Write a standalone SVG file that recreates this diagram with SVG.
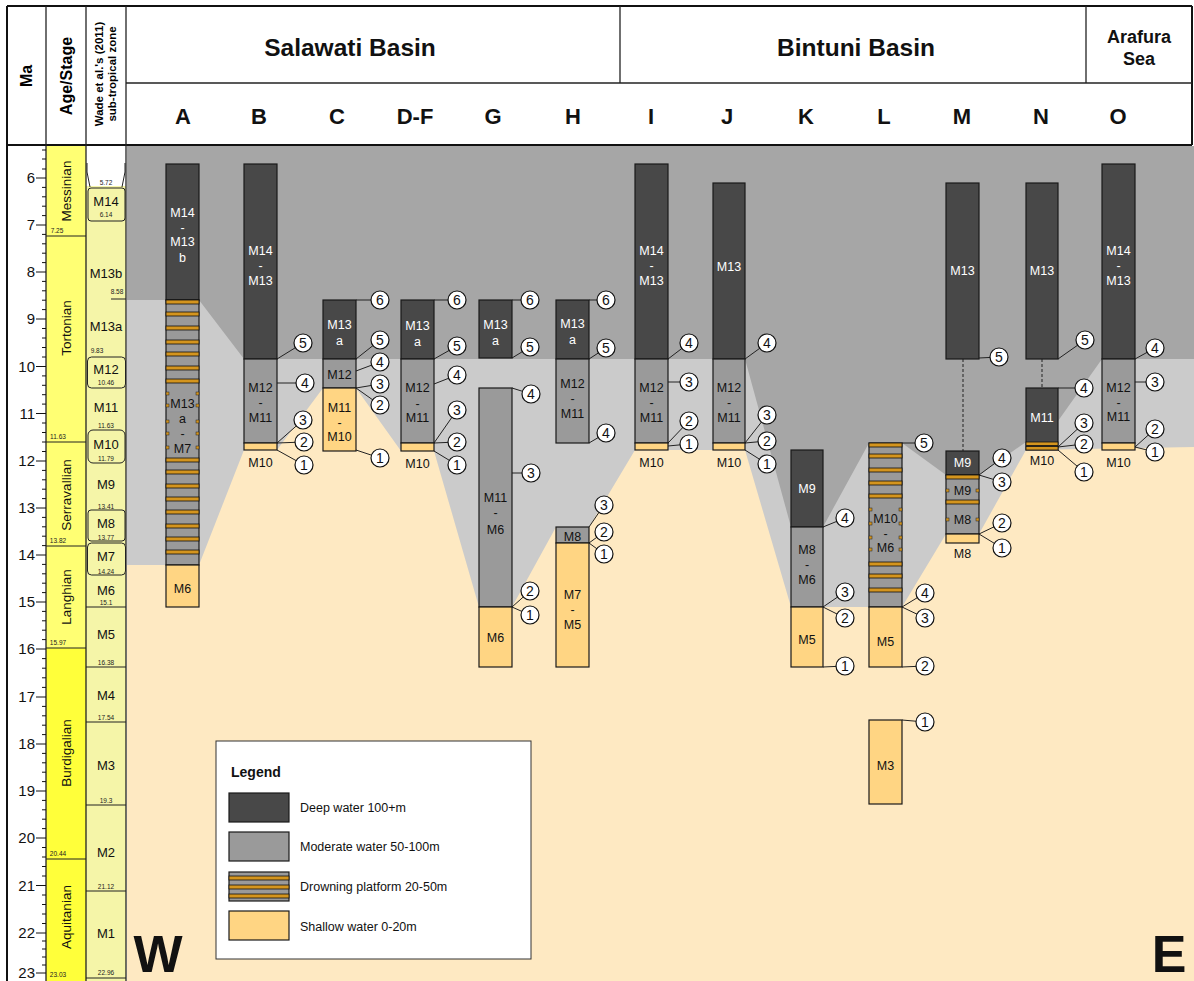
<svg xmlns="http://www.w3.org/2000/svg" width="1194" height="981" viewBox="0 0 1194 981">
<style>
text{font-family:"Liberation Sans",Arial,sans-serif}
.frame{fill:none;stroke:#111;stroke-width:2}
.thin{stroke:#222;stroke-width:1.3;fill:none}
.deep{fill:#484848;stroke:#1a1a1a;stroke-width:1.2}
.mod{fill:#9a9a9a;stroke:#1a1a1a;stroke-width:1.2}
.shal{fill:#ffd583;stroke:#1a1a1a;stroke-width:1.2}
.st{fill:#d4951e;stroke:#111;stroke-width:0.8}
.tk{fill:#d4951e;stroke:#222;stroke-width:0.5}
.tw{font-size:12.5px;fill:#fff;text-anchor:middle}
.tb{font-size:12.5px;fill:#111;text-anchor:middle}
.mk circle{fill:#fff;stroke:#111;stroke-width:1.2}
.mk text{font-size:14px;fill:#111;text-anchor:middle}
.conn line{stroke:#222;stroke-width:1}
.dash{stroke:#444;stroke-width:1;stroke-dasharray:3 2}
.hd{font-size:22px;font-weight:bold;fill:#111;text-anchor:middle}
.bn{font-size:24.5px;font-weight:bold;fill:#111;text-anchor:middle}
.ax{font-size:15px;fill:#111;text-anchor:end}
.zn{font-size:13px;fill:#111;text-anchor:middle}
.sm{font-size:6.5px;fill:#222;text-anchor:middle}
.sg{font-size:13.5px;fill:#111;text-anchor:middle}
.tick{stroke:#111;stroke-width:1}
</style>

<!-- backgrounds -->
<g id="background">
<rect x="127" y="146" width="1067" height="835" fill="#fee9c2"/>
<polygon fill="#cbcbcb" points="127,146 1194,146 1194,447 1026,450 979,534 946,534 902,607 791,607 745,450 635,450 589,527 556,527 512,607 479,607 434,451 401,451 356,388 323,388 277,450 244,450 199,565 127,565"/>
<polygon fill="#a6a6a6" points="127,146 1194,146 1194,359 1102,359 1058,421 1026,442 979,475 946,475 902,443 869,443 823,527 791,527 745,359 244,359 199,300 127,300"/>
</g>

<!-- header / frame -->
<g id="header">
<rect x="0" y="0" width="1194" height="146" fill="#fff"/>
<rect x="7" y="146" width="119" height="835" fill="#fff"/>
<rect x="46" y="146" width="40" height="96" fill="#ffff73"/>
<rect x="46" y="236" width="40" height="412" fill="#ffff73"/>
<rect x="46" y="648" width="40" height="333" fill="#ffff3a"/>
<rect x="86" y="186" width="40" height="795" fill="#f5f5a8"/>
<line class="frame" x1="7" y1="6" x2="1192" y2="6"/>
<line class="frame" x1="7" y1="6" x2="7" y2="981"/>
<line class="frame" x1="1192" y1="6" x2="1192" y2="145"/>
<line class="frame" x1="7" y1="145" x2="1192" y2="145"/>
<line class="thin" x1="46" y1="6" x2="46" y2="981"/>
<line class="thin" x1="86" y1="6" x2="86" y2="981"/>
<line class="thin" x1="126" y1="6" x2="126" y2="981"/>
<line class="thin" x1="126" y1="83" x2="1192" y2="83"/>
<line class="thin" x1="620" y1="6" x2="620" y2="83"/>
<line class="thin" x1="1086" y1="6" x2="1086" y2="83"/>
<text transform="translate(32,76) rotate(-90)" style="font-size:16px;font-weight:bold;text-anchor:middle">Ma</text>
<text transform="translate(72,76) rotate(-90)" style="font-size:16px;font-weight:bold;text-anchor:middle">Age/Stage</text>
<text transform="translate(103,74) rotate(-90)" style="font-size:11.5px;font-weight:bold;text-anchor:middle">Wade et al.'s (2011)</text>
<text transform="translate(116,74) rotate(-90)" style="font-size:11.5px;font-weight:bold;text-anchor:middle">sub-tropical zone</text>
<text class="bn" x="350" y="56">Salawati Basin</text>
<text class="bn" x="856" y="56">Bintuni Basin</text>
<text class="hd" x="1139" y="43" style="font-size:18px">Arafura</text>
<text class="hd" x="1139" y="65" style="font-size:18px">Sea</text>
<text class="hd" x="183" y="124">A</text>
<text class="hd" x="259" y="124">B</text>
<text class="hd" x="337" y="124">C</text>
<text class="hd" x="415" y="124">D-F</text>
<text class="hd" x="493" y="124">G</text>
<text class="hd" x="573" y="124">H</text>
<text class="hd" x="651" y="124">I</text>
<text class="hd" x="727" y="124">J</text>
<text class="hd" x="806" y="124">K</text>
<text class="hd" x="884" y="124">L</text>
<text class="hd" x="962" y="124">M</text>
<text class="hd" x="1041" y="124">N</text>
<text class="hd" x="1118" y="124">O</text>
</g>

<!-- Ma axis -->
<g id="ma-axis">
<g class="tick">
<line x1="42" y1="150" x2="46" y2="150"/><line x1="42" y1="159" x2="46" y2="159"/><line x1="42" y1="169" x2="46" y2="169"/>
<line x1="36" y1="178" x2="46" y2="178"/><line x1="42" y1="187.4" x2="46" y2="187.4"/><line x1="42" y1="196.8" x2="46" y2="196.8"/><line x1="42" y1="206.2" x2="46" y2="206.2"/><line x1="42" y1="215.6" x2="46" y2="215.6"/>
<line x1="36" y1="225" x2="46" y2="225"/><line x1="42" y1="234.4" x2="46" y2="234.4"/><line x1="42" y1="243.8" x2="46" y2="243.8"/><line x1="42" y1="253.2" x2="46" y2="253.2"/><line x1="42" y1="262.6" x2="46" y2="262.6"/>
<line x1="36" y1="272" x2="46" y2="272"/><line x1="42" y1="281.4" x2="46" y2="281.4"/><line x1="42" y1="290.8" x2="46" y2="290.8"/><line x1="42" y1="300.2" x2="46" y2="300.2"/><line x1="42" y1="309.6" x2="46" y2="309.6"/>
<line x1="36" y1="319" x2="46" y2="319"/><line x1="42" y1="328.5" x2="46" y2="328.5"/><line x1="42" y1="338" x2="46" y2="338"/><line x1="42" y1="347.5" x2="46" y2="347.5"/><line x1="42" y1="357" x2="46" y2="357"/>
<line x1="36" y1="366.5" x2="46" y2="366.5"/><line x1="42" y1="375.9" x2="46" y2="375.9"/><line x1="42" y1="385.3" x2="46" y2="385.3"/><line x1="42" y1="394.7" x2="46" y2="394.7"/><line x1="42" y1="404.1" x2="46" y2="404.1"/>
<line x1="36" y1="413.5" x2="46" y2="413.5"/><line x1="42" y1="423" x2="46" y2="423"/><line x1="42" y1="432.5" x2="46" y2="432.5"/><line x1="42" y1="442" x2="46" y2="442"/><line x1="42" y1="451.5" x2="46" y2="451.5"/>
<line x1="36" y1="461" x2="46" y2="461"/><line x1="42" y1="470.4" x2="46" y2="470.4"/><line x1="42" y1="479.8" x2="46" y2="479.8"/><line x1="42" y1="489.2" x2="46" y2="489.2"/><line x1="42" y1="498.6" x2="46" y2="498.6"/>
<line x1="36" y1="508" x2="46" y2="508"/><line x1="42" y1="517.4" x2="46" y2="517.4"/><line x1="42" y1="526.8" x2="46" y2="526.8"/><line x1="42" y1="536.2" x2="46" y2="536.2"/><line x1="42" y1="545.6" x2="46" y2="545.6"/>
<line x1="36" y1="555" x2="46" y2="555"/><line x1="42" y1="564.4" x2="46" y2="564.4"/><line x1="42" y1="573.8" x2="46" y2="573.8"/><line x1="42" y1="583.2" x2="46" y2="583.2"/><line x1="42" y1="592.6" x2="46" y2="592.6"/>
<line x1="36" y1="602" x2="46" y2="602"/><line x1="42" y1="611.4" x2="46" y2="611.4"/><line x1="42" y1="620.8" x2="46" y2="620.8"/><line x1="42" y1="630.2" x2="46" y2="630.2"/><line x1="42" y1="639.6" x2="46" y2="639.6"/>
<line x1="36" y1="649" x2="46" y2="649"/><line x1="42" y1="658.6" x2="46" y2="658.6"/><line x1="42" y1="668.2" x2="46" y2="668.2"/><line x1="42" y1="677.8" x2="46" y2="677.8"/><line x1="42" y1="687.4" x2="46" y2="687.4"/>
<line x1="36" y1="697" x2="46" y2="697"/><line x1="42" y1="706.4" x2="46" y2="706.4"/><line x1="42" y1="715.8" x2="46" y2="715.8"/><line x1="42" y1="725.2" x2="46" y2="725.2"/><line x1="42" y1="734.6" x2="46" y2="734.6"/>
<line x1="36" y1="744" x2="46" y2="744"/><line x1="42" y1="753.4" x2="46" y2="753.4"/><line x1="42" y1="762.8" x2="46" y2="762.8"/><line x1="42" y1="772.2" x2="46" y2="772.2"/><line x1="42" y1="781.6" x2="46" y2="781.6"/>
<line x1="36" y1="791" x2="46" y2="791"/><line x1="42" y1="800.4" x2="46" y2="800.4"/><line x1="42" y1="809.8" x2="46" y2="809.8"/><line x1="42" y1="819.2" x2="46" y2="819.2"/><line x1="42" y1="828.6" x2="46" y2="828.6"/>
<line x1="36" y1="838" x2="46" y2="838"/><line x1="42" y1="847.5" x2="46" y2="847.5"/><line x1="42" y1="857" x2="46" y2="857"/><line x1="42" y1="866.5" x2="46" y2="866.5"/><line x1="42" y1="876" x2="46" y2="876"/>
<line x1="36" y1="885.5" x2="46" y2="885.5"/><line x1="42" y1="895" x2="46" y2="895"/><line x1="42" y1="904.5" x2="46" y2="904.5"/><line x1="42" y1="914" x2="46" y2="914"/><line x1="42" y1="923.5" x2="46" y2="923.5"/>
<line x1="36" y1="933" x2="46" y2="933"/><line x1="42" y1="941" x2="46" y2="941"/><line x1="42" y1="949" x2="46" y2="949"/><line x1="42" y1="957" x2="46" y2="957"/><line x1="42" y1="965" x2="46" y2="965"/>
<line x1="36" y1="973" x2="46" y2="973"/>
</g>
<text class="ax" x="35" y="183">6</text>
<text class="ax" x="35" y="230">7</text>
<text class="ax" x="35" y="277">8</text>
<text class="ax" x="35" y="324">9</text>
<text class="ax" x="35" y="371.5">10</text>
<text class="ax" x="35" y="418.5">11</text>
<text class="ax" x="35" y="466">12</text>
<text class="ax" x="35" y="513">13</text>
<text class="ax" x="35" y="560">14</text>
<text class="ax" x="35" y="607">15</text>
<text class="ax" x="35" y="654">16</text>
<text class="ax" x="35" y="702">17</text>
<text class="ax" x="35" y="749">18</text>
<text class="ax" x="35" y="796">19</text>
<text class="ax" x="35" y="843">20</text>
<text class="ax" x="35" y="890.5">21</text>
<text class="ax" x="35" y="938">22</text>
<text class="ax" x="35" y="978">23</text>
</g>

<!-- Age / Stage -->
<g id="stages">
<g class="thin" style="stroke-width:1">
<line x1="46" y1="236" x2="86" y2="236"/>
<line x1="46" y1="442" x2="86" y2="442"/>
<line x1="46" y1="546" x2="86" y2="546"/>
<line x1="46" y1="648" x2="86" y2="648"/>
<line x1="46" y1="859" x2="86" y2="859"/>
</g>
<text class="sm" x="57" y="233">7.25</text>
<text class="sm" x="58" y="439">11.63</text>
<text class="sm" x="58" y="543">13.82</text>
<text class="sm" x="58" y="645">15.97</text>
<text class="sm" x="58" y="856">20.44</text>
<text class="sm" x="58" y="977">23.03</text>
<text class="sg" transform="translate(71,191) rotate(-90)">Messinian</text>
<text class="sg" transform="translate(71,328) rotate(-90)">Tortonian</text>
<text class="sg" transform="translate(71,495) rotate(-90)">Serravallian</text>
<text class="sg" transform="translate(71,597) rotate(-90)">Langhian</text>
<text class="sg" transform="translate(71,753) rotate(-90)">Burdigalian</text>
<text class="sg" transform="translate(71,917) rotate(-90)">Aquitanian</text>
</g>

<!-- Wade zones -->
<g id="zones">
<polyline class="thin" style="stroke-width:1" points="87,163 87,172 90,187"/>
<polyline class="thin" style="stroke-width:1" points="125,163 125,172 122,187"/>
<g style="fill:#f5f5a8;stroke:#222;stroke-width:1">
<rect x="88" y="188" width="37" height="33" rx="3"/>
<rect x="87.5" y="357" width="38" height="31" rx="4"/>
<rect x="88" y="430" width="37" height="33" rx="5"/>
<rect x="88" y="510" width="37" height="31" rx="3"/>
<rect x="87.5" y="543" width="38" height="32" rx="4"/>
</g>
<g class="thin" style="stroke-width:1">
<line x1="111" y1="299" x2="126" y2="299"/>
<line x1="86" y1="607" x2="126" y2="607"/>
<line x1="86" y1="667" x2="126" y2="667"/>
<line x1="86" y1="722" x2="126" y2="722"/>
<line x1="86" y1="805" x2="126" y2="805"/>
<line x1="86" y1="891" x2="126" y2="891"/>
<line x1="86" y1="978" x2="126" y2="978"/>
</g>
<text class="sm" x="106" y="185">5.72</text>
<text class="zn" x="106" y="206">M14</text>
<text class="sm" x="106" y="217">6.14</text>
<text class="zn" x="106" y="278">M13b</text>
<text class="sm" x="117" y="294">8.58</text>
<text class="zn" x="106" y="331">M13a</text>
<text class="sm" x="97" y="353">9.83</text>
<text class="zn" x="106" y="374">M12</text>
<text class="sm" x="106" y="385">10.46</text>
<text class="zn" x="106" y="412">M11</text>
<text class="sm" x="106" y="428">11.63</text>
<text class="zn" x="106" y="449">M10</text>
<text class="sm" x="106" y="461">11.79</text>
<text class="zn" x="106" y="489">M9</text>
<text class="sm" x="106" y="509">13.41</text>
<text class="zn" x="106" y="528">M8</text>
<text class="sm" x="106" y="540">13.77</text>
<text class="zn" x="106" y="561">M7</text>
<text class="sm" x="106" y="574">14.24</text>
<text class="zn" x="106" y="595">M6</text>
<text class="sm" x="106" y="605">15.1</text>
<text class="zn" x="106" y="639">M5</text>
<text class="sm" x="106" y="665">16.38</text>
<text class="zn" x="106" y="700">M4</text>
<text class="sm" x="106" y="720">17.54</text>
<text class="zn" x="106" y="770">M3</text>
<text class="sm" x="106" y="803">19.3</text>
<text class="zn" x="106" y="857">M2</text>
<text class="sm" x="106" y="889">21.12</text>
<text class="zn" x="106" y="938">M1</text>
<text class="sm" x="106" y="975">22.96</text>
</g>

<!-- connectors -->
<g id="connectors" class="conn">
<line x1="277" y1="359" x2="303" y2="343"/><line x1="277" y1="383" x2="305" y2="383"/><line x1="277" y1="443" x2="303" y2="420"/><line x1="277" y1="443" x2="304" y2="442"/><line x1="277" y1="450" x2="304" y2="465"/>
<line x1="356" y1="300" x2="380" y2="300"/><line x1="356" y1="359" x2="380" y2="340"/><line x1="356" y1="371" x2="380" y2="362"/><line x1="356" y1="388" x2="380" y2="384"/><line x1="356" y1="388" x2="380" y2="405"/><line x1="356" y1="450" x2="380" y2="458"/>
<line x1="434" y1="300" x2="457" y2="300"/><line x1="434" y1="359" x2="457" y2="346"/><line x1="434" y1="384" x2="457" y2="375"/><line x1="434" y1="443" x2="457" y2="410"/><line x1="434" y1="443" x2="457" y2="442"/><line x1="434" y1="451" x2="457" y2="465"/>
<line x1="512" y1="300" x2="530" y2="300"/><line x1="512" y1="358" x2="530" y2="347"/><line x1="512" y1="388" x2="531" y2="394"/><line x1="512" y1="473" x2="531" y2="473"/><line x1="512" y1="607" x2="530" y2="591"/><line x1="512" y1="607" x2="530" y2="615"/>
<line x1="589" y1="300" x2="606" y2="300"/><line x1="589" y1="359" x2="606" y2="348"/><line x1="589" y1="443" x2="606" y2="433"/><line x1="589" y1="527" x2="604" y2="505"/><line x1="589" y1="543" x2="604" y2="532"/><line x1="589" y1="543" x2="604" y2="554"/>
<line x1="668" y1="359" x2="689" y2="343"/><line x1="668" y1="382" x2="689" y2="382"/><line x1="668" y1="443" x2="689" y2="421"/><line x1="668" y1="446" x2="689" y2="444"/>
<line x1="745" y1="359" x2="767" y2="343"/><line x1="745" y1="443" x2="767" y2="415"/><line x1="745" y1="443" x2="767" y2="441"/><line x1="745" y1="450" x2="767" y2="464"/>
<line x1="823" y1="527" x2="845" y2="518"/><line x1="823" y1="607" x2="845" y2="592"/><line x1="823" y1="607" x2="845" y2="618"/><line x1="823" y1="667" x2="845" y2="666"/>
<line x1="902" y1="443" x2="924" y2="443"/><line x1="902" y1="607" x2="925" y2="593"/><line x1="902" y1="607" x2="925" y2="618"/><line x1="902" y1="667" x2="925" y2="666"/><line x1="902" y1="720" x2="925" y2="722"/>
<line x1="979" y1="358" x2="999" y2="357"/><line x1="979" y1="475" x2="1002" y2="458"/><line x1="979" y1="475" x2="1002" y2="482"/><line x1="979" y1="534" x2="1002" y2="523"/><line x1="979" y1="534" x2="1002" y2="548"/>
<line x1="1058" y1="359" x2="1085" y2="340"/><line x1="1058" y1="388" x2="1084" y2="388"/><line x1="1058" y1="447" x2="1084" y2="423"/><line x1="1058" y1="447" x2="1084" y2="444"/><line x1="1058" y1="450" x2="1084" y2="472"/>
<line x1="1135" y1="359" x2="1155" y2="348"/><line x1="1135" y1="382" x2="1155" y2="382"/><line x1="1135" y1="447" x2="1155" y2="429"/><line x1="1135" y1="447" x2="1155" y2="452"/>
<line class="dash" x1="963" y1="359" x2="963" y2="451"/>
<line class="dash" x1="1042" y1="359" x2="1042" y2="388"/>
</g>

<!-- Column A -->
<g id="col-A">
<rect class="deep" x="166" y="164" width="33" height="136"/>
<rect class="mod" x="166" y="300" width="33" height="265"/>
<g class="st">
<rect x="166" y="300" width="33" height="4"/><rect x="166" y="312" width="33" height="4"/><rect x="166" y="326" width="33" height="4"/><rect x="166" y="340" width="33" height="4"/><rect x="166" y="352" width="33" height="4"/><rect x="166" y="366" width="33" height="4"/><rect x="166" y="379" width="33" height="4"/>
<rect x="166" y="458" width="33" height="4"/><rect x="166" y="470" width="33" height="4"/><rect x="166" y="484" width="33" height="4"/><rect x="166" y="497" width="33" height="4"/><rect x="166" y="510" width="33" height="4"/><rect x="166" y="524" width="33" height="4"/><rect x="166" y="537" width="33" height="4"/><rect x="166" y="550" width="33" height="4"/>
</g>
<g class="tk">
<rect x="166" y="392" width="3" height="3"/><rect x="196" y="392" width="3" height="3"/>
<rect x="166" y="404" width="3" height="3"/><rect x="196" y="404" width="3" height="3"/>
<rect x="166" y="420" width="3" height="3"/><rect x="196" y="420" width="3" height="3"/>
<rect x="166" y="432" width="3" height="3"/><rect x="196" y="432" width="3" height="3"/>
<rect x="166" y="446" width="3" height="3"/><rect x="196" y="446" width="3" height="3"/>
</g>
<rect class="shal" x="166" y="565" width="33" height="42"/>
<text class="tw" x="182.5" y="216.5">M14</text><text class="tw" x="182.5" y="231.5">-</text><text class="tw" x="182.5" y="245.5">M13</text><text class="tw" x="182.5" y="261.5">b</text>
<text class="tb" x="182.5" y="407.5">M13</text><text class="tb" x="182.5" y="422.5">a</text><text class="tb" x="182.5" y="437.5">-</text><text class="tb" x="182.5" y="452.5">M7</text>
<text class="tb" x="182.5" y="592.5">M6</text>
</g>

<!-- Column B -->
<g id="col-B">
<rect class="deep" x="244" y="164" width="33" height="195"/>
<rect class="mod" x="244" y="359" width="33" height="84"/>
<rect class="shal" x="244" y="443" width="33" height="7"/>
<text class="tw" x="260.5" y="254.5">M14</text><text class="tw" x="260.5" y="269.5">-</text><text class="tw" x="260.5" y="284.5">M13</text>
<text class="tb" x="260.5" y="391.5">M12</text><text class="tb" x="260.5" y="406.5">-</text><text class="tb" x="260.5" y="421.5">M11</text>
<text class="tb" x="260.5" y="466.5">M10</text>
<g class="mk"><circle cx="303" cy="343" r="9"/><text x="303" y="348">5</text><circle cx="305" cy="383" r="9"/><text x="305" y="388">4</text><circle cx="303" cy="420" r="9"/><text x="303" y="425">3</text><circle cx="304" cy="442" r="9"/><text x="304" y="447">2</text><circle cx="304" cy="465" r="9"/><text x="304" y="470">1</text></g>
</g>

<!-- Column C -->
<g id="col-C">
<rect class="deep" x="323" y="300" width="33" height="59"/>
<rect class="mod" x="323" y="359" width="33" height="29"/>
<rect class="shal" x="323" y="388" width="33" height="63"/>
<text class="tw" x="339.5" y="328.5">M13</text><text class="tw" x="339.5" y="344.5">a</text>
<text class="tb" x="339.5" y="378.5">M12</text>
<text class="tb" x="339.5" y="411.5">M11</text><text class="tb" x="339.5" y="426.5">-</text><text class="tb" x="339.5" y="440.5">M10</text>
<g class="mk"><circle cx="380" cy="300" r="9"/><text x="380" y="305">6</text><circle cx="380" cy="340" r="9"/><text x="380" y="345">5</text><circle cx="380" cy="362" r="9"/><text x="380" y="367">4</text><circle cx="380" cy="384" r="9"/><text x="380" y="389">3</text><circle cx="380" cy="405" r="9"/><text x="380" y="410">2</text><circle cx="380" cy="458" r="9"/><text x="380" y="463">1</text></g>
</g>

<!-- Column D-F -->
<g id="col-DF">
<rect class="deep" x="401" y="300" width="33" height="59"/>
<rect class="mod" x="401" y="359" width="33" height="84"/>
<rect class="shal" x="401" y="443" width="33" height="8"/>
<text class="tw" x="417.5" y="329.5">M13</text><text class="tw" x="417.5" y="345.5">a</text>
<text class="tb" x="417.5" y="391.5">M12</text><text class="tb" x="417.5" y="407.5">-</text><text class="tb" x="417.5" y="421.5">M11</text>
<text class="tb" x="417.5" y="467.5">M10</text>
<g class="mk"><circle cx="457" cy="300" r="9"/><text x="457" y="305">6</text><circle cx="457" cy="346" r="9"/><text x="457" y="351">5</text><circle cx="457" cy="375" r="9"/><text x="457" y="380">4</text><circle cx="457" cy="410" r="9"/><text x="457" y="415">3</text><circle cx="457" cy="442" r="9"/><text x="457" y="447">2</text><circle cx="457" cy="465" r="9"/><text x="457" y="470">1</text></g>
</g>

<!-- Column G -->
<g id="col-G">
<rect class="deep" x="479" y="300" width="33" height="58"/>
<rect class="mod" x="479" y="388" width="33" height="219"/>
<rect class="shal" x="479" y="607" width="33" height="60"/>
<text class="tw" x="495.5" y="328.5">M13</text><text class="tw" x="495.5" y="344.5">a</text>
<text class="tb" x="495.5" y="501.5">M11</text><text class="tb" x="495.5" y="517">-</text><text class="tb" x="495.5" y="533.5">M6</text>
<text class="tb" x="495.5" y="641.5">M6</text>
<g class="mk"><circle cx="530" cy="300" r="9"/><text x="530" y="305">6</text><circle cx="530" cy="347" r="9"/><text x="530" y="352">5</text><circle cx="531" cy="394" r="9"/><text x="531" y="399">4</text><circle cx="531" cy="473" r="9"/><text x="531" y="478">3</text><circle cx="530" cy="591" r="9"/><text x="530" y="596">2</text><circle cx="530" cy="615" r="9"/><text x="530" y="620">1</text></g>
</g>

<!-- Column H -->
<g id="col-H">
<rect class="deep" x="556" y="300" width="33" height="59"/>
<rect class="mod" x="556" y="359" width="33" height="84"/>
<rect class="mod" x="556" y="527" width="33" height="16"/>
<rect class="shal" x="556" y="543" width="33" height="124"/>
<text class="tw" x="572.5" y="327.5">M13</text><text class="tw" x="572.5" y="343.5">a</text>
<text class="tb" x="572.5" y="387.5">M12</text><text class="tb" x="572.5" y="402.5">-</text><text class="tb" x="572.5" y="417.5">M11</text>
<text class="tb" x="572.5" y="540.5">M8</text>
<text class="tb" x="572.5" y="598.5">M7</text><text class="tb" x="572.5" y="613.5">-</text><text class="tb" x="572.5" y="628.5">M5</text>
<g class="mk"><circle cx="606" cy="300" r="9"/><text x="606" y="305">6</text><circle cx="606" cy="348" r="9"/><text x="606" y="353">5</text><circle cx="606" cy="433" r="9"/><text x="606" y="438">4</text><circle cx="604" cy="505" r="9"/><text x="604" y="510">3</text><circle cx="604" cy="532" r="9"/><text x="604" y="537">2</text><circle cx="604" cy="554" r="9"/><text x="604" y="559">1</text></g>
</g>

<!-- Column I -->
<g id="col-I">
<rect class="deep" x="635" y="164" width="33" height="195"/>
<rect class="mod" x="635" y="359" width="33" height="84"/>
<rect class="shal" x="635" y="443" width="33" height="7"/>
<text class="tw" x="651.5" y="254.5">M14</text><text class="tw" x="651.5" y="269.5">-</text><text class="tw" x="651.5" y="284.5">M13</text>
<text class="tb" x="651.5" y="391.5">M12</text><text class="tb" x="651.5" y="406.5">-</text><text class="tb" x="651.5" y="421.5">M11</text>
<text class="tb" x="651.5" y="466.5">M10</text>
<g class="mk"><circle cx="689" cy="343" r="9"/><text x="689" y="348">4</text><circle cx="689" cy="382" r="9"/><text x="689" y="387">3</text><circle cx="689" cy="421" r="9"/><text x="689" y="426">2</text><circle cx="689" cy="444" r="9"/><text x="689" y="449">1</text></g>
</g>

<!-- Column J -->
<g id="col-J">
<rect class="deep" x="713" y="183" width="32" height="176"/>
<rect class="mod" x="713" y="359" width="32" height="84"/>
<rect class="shal" x="713" y="443" width="32" height="7"/>
<text class="tw" x="729" y="270.5">M13</text>
<text class="tb" x="729" y="391.5">M12</text><text class="tb" x="729" y="406.5">-</text><text class="tb" x="729" y="421.5">M11</text>
<text class="tb" x="729" y="466.5">M10</text>
<g class="mk"><circle cx="767" cy="343" r="9"/><text x="767" y="348">4</text><circle cx="767" cy="415" r="9"/><text x="767" y="420">3</text><circle cx="767" cy="441" r="9"/><text x="767" y="446">2</text><circle cx="767" cy="464" r="9"/><text x="767" y="469">1</text></g>
</g>

<!-- Column K -->
<g id="col-K">
<rect class="deep" x="791" y="450" width="32" height="77"/>
<rect class="mod" x="791" y="527" width="32" height="80"/>
<rect class="shal" x="791" y="607" width="32" height="60"/>
<text class="tw" x="807" y="492.5">M9</text>
<text class="tb" x="807" y="553.5">M8</text><text class="tb" x="807" y="568.5">-</text><text class="tb" x="807" y="583.5">M6</text>
<text class="tb" x="807" y="643.5">M5</text>
<g class="mk"><circle cx="845" cy="518" r="9"/><text x="845" y="523">4</text><circle cx="845" cy="592" r="9"/><text x="845" y="597">3</text><circle cx="845" cy="618" r="9"/><text x="845" y="623">2</text><circle cx="845" cy="666" r="9"/><text x="845" y="671">1</text></g>
</g>

<!-- Column L -->
<g id="col-L">
<rect class="mod" x="869" y="443" width="33" height="164"/>
<g class="st">
<rect x="869" y="443" width="33" height="4"/><rect x="869" y="454" width="33" height="4"/><rect x="869" y="468" width="33" height="4"/><rect x="869" y="481" width="33" height="4"/><rect x="869" y="494" width="33" height="4"/>
<rect x="869" y="562" width="33" height="4"/><rect x="869" y="574" width="33" height="4"/><rect x="869" y="588" width="33" height="4"/>
</g>
<g class="tk">
<rect x="869" y="508" width="3" height="3"/><rect x="899" y="508" width="3" height="3"/>
<rect x="869" y="522" width="3" height="3"/><rect x="899" y="522" width="3" height="3"/>
<rect x="869" y="536" width="3" height="3"/><rect x="899" y="536" width="3" height="3"/>
<rect x="869" y="548" width="3" height="3"/><rect x="899" y="548" width="3" height="3"/>
</g>
<rect class="shal" x="869" y="607" width="33" height="60"/>
<rect class="shal" x="869" y="720" width="33" height="84"/>
<text class="tb" x="885.5" y="522.5">M10</text><text class="tb" x="885.5" y="537.5">-</text><text class="tb" x="885.5" y="551.5">M6</text>
<text class="tb" x="885.5" y="645.5">M5</text>
<text class="tb" x="885.5" y="769.5">M3</text>
<g class="mk"><circle cx="924" cy="443" r="9"/><text x="924" y="448">5</text><circle cx="925" cy="593" r="9"/><text x="925" y="598">4</text><circle cx="925" cy="618" r="9"/><text x="925" y="623">3</text><circle cx="925" cy="666" r="9"/><text x="925" y="671">2</text><circle cx="925" cy="722" r="9"/><text x="925" y="727">1</text></g>
</g>

<!-- Column M -->
<g id="col-M">
<rect class="deep" x="946" y="183" width="33" height="176"/>
<rect class="deep" x="946" y="451" width="33" height="24"/>
<rect class="mod" x="946" y="475" width="33" height="59"/>
<g class="st"><rect x="946" y="475" width="33" height="4"/><rect x="946" y="500" width="33" height="4"/></g>
<g class="tk">
<rect x="946" y="489" width="3" height="3"/><rect x="976" y="489" width="3" height="3"/>
<rect x="946" y="518" width="3" height="3"/><rect x="976" y="518" width="3" height="3"/>
</g>
<rect class="shal" x="946" y="534" width="33" height="9"/>
<text class="tw" x="962.5" y="274.5">M13</text>
<text class="tw" x="962.5" y="467">M9</text>
<text class="tb" x="962.5" y="494.5">M9</text>
<text class="tb" x="962.5" y="523.5">M8</text>
<text class="tb" x="962.5" y="557.5">M8</text>
<g class="mk"><circle cx="999" cy="357" r="9"/><text x="999" y="362">5</text><circle cx="1002" cy="458" r="9"/><text x="1002" y="463">4</text><circle cx="1002" cy="482" r="9"/><text x="1002" y="487">3</text><circle cx="1002" cy="523" r="9"/><text x="1002" y="528">2</text><circle cx="1002" cy="548" r="9"/><text x="1002" y="553">1</text></g>
</g>

<!-- Column N -->
<g id="col-N">
<rect class="deep" x="1026" y="183" width="32" height="176"/>
<rect class="deep" x="1026" y="388" width="32" height="62"/>
<g class="st"><rect x="1026" y="442" width="32" height="3.5"/><rect x="1026" y="446.5" width="32" height="3.5"/></g>
<text class="tw" x="1042" y="274.5">M13</text>
<text class="tw" x="1042" y="421.5">M11</text>
<text class="tb" x="1042" y="464.5">M10</text>
<g class="mk"><circle cx="1085" cy="340" r="9"/><text x="1085" y="345">5</text><circle cx="1084" cy="388" r="9"/><text x="1084" y="393">4</text><circle cx="1084" cy="423" r="9"/><text x="1084" y="428">3</text><circle cx="1084" cy="444" r="9"/><text x="1084" y="449">2</text><circle cx="1084" cy="472" r="9"/><text x="1084" y="477">1</text></g>
</g>

<!-- Column O -->
<g id="col-O">
<rect class="deep" x="1102" y="164" width="33" height="195"/>
<rect class="mod" x="1102" y="359" width="33" height="84"/>
<rect class="shal" x="1102" y="443" width="33" height="7"/>
<text class="tw" x="1118.5" y="254.5">M14</text><text class="tw" x="1118.5" y="269.5">-</text><text class="tw" x="1118.5" y="284.5">M13</text>
<text class="tb" x="1118.5" y="391.5">M12</text><text class="tb" x="1118.5" y="406.5">-</text><text class="tb" x="1118.5" y="420.5">M11</text>
<text class="tb" x="1118.5" y="466.5">M10</text>
<g class="mk"><circle cx="1155" cy="348" r="9"/><text x="1155" y="353">4</text><circle cx="1155" cy="382" r="9"/><text x="1155" y="387">3</text><circle cx="1155" cy="429" r="9"/><text x="1155" y="434">2</text><circle cx="1155" cy="452" r="9"/><text x="1155" y="457">1</text></g>
</g>

<!-- Legend -->
<g id="legend">
<rect x="216" y="741" width="315" height="218" fill="#fff" stroke="#333" stroke-width="1"/>
<text x="231" y="777" style="font-size:14px;font-weight:bold;fill:#111">Legend</text>
<rect class="deep" x="229" y="793" width="60" height="29"/>
<rect class="mod" x="229" y="832" width="60" height="29"/>
<rect class="mod" x="229" y="872" width="60" height="29"/>
<g class="st"><rect x="229" y="876" width="60" height="4"/><rect x="229" y="885" width="60" height="4"/><rect x="229" y="894" width="60" height="4"/></g>
<rect class="shal" x="229" y="911" width="60" height="29"/>
<text x="300" y="811.5" style="font-size:12.5px;fill:#111">Deep water 100+m</text>
<text x="300" y="850.5" style="font-size:12.5px;fill:#111">Moderate water 50-100m</text>
<text x="300" y="891" style="font-size:12.5px;fill:#111">Drowning platform 20-50m</text>
<text x="300" y="930.5" style="font-size:12.5px;fill:#111">Shallow water 0-20m</text>
</g>

<g id="directions">
<text x="158" y="972" style="font-size:52px;font-weight:bold;fill:#111;text-anchor:middle">W</text>
<text x="1169" y="972" style="font-size:52px;font-weight:bold;fill:#111;text-anchor:middle">E</text>
</g>
</svg>
